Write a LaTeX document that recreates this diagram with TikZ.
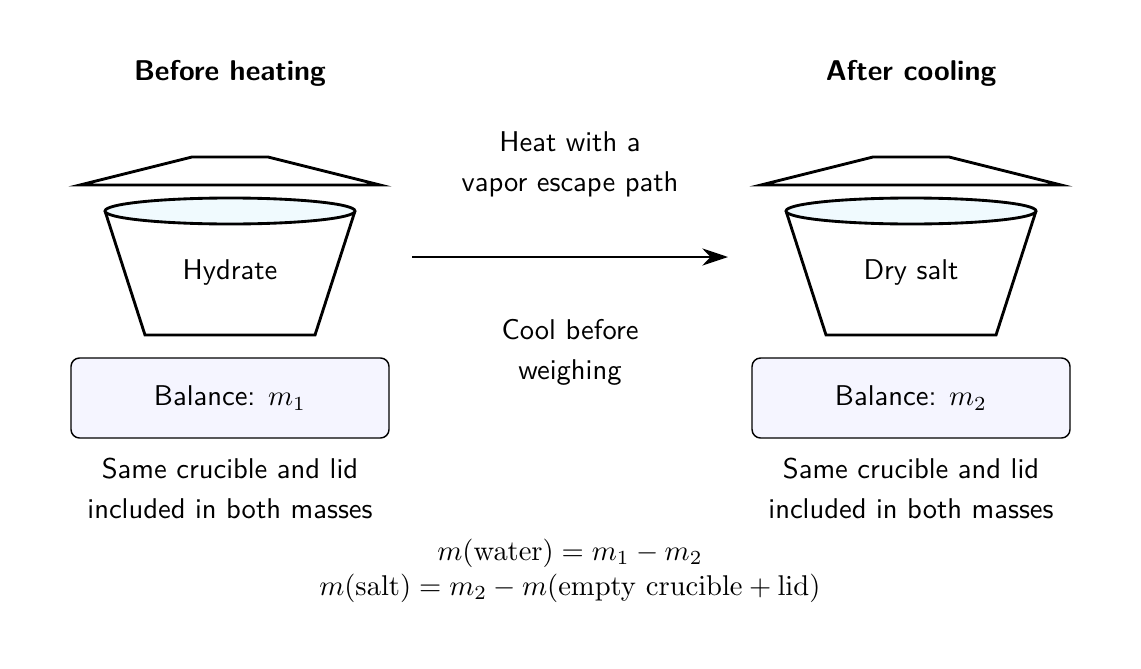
\documentclass[tikz,border=0pt]{standalone}
\usetikzlibrary{arrows.meta}
\begin{document}
\begin{tikzpicture}[x=0.35pt,y=-0.35pt,font=\sffamily,
  thick line/.style={line width=1pt,line join=miter},
  crucfill/.style={fill=cyan!6!white},
  bal/.style={draw,line width=0.5pt,rounded corners=3pt,fill=blue!4!white,minimum width=318*0.35pt,minimum height=80*0.35pt},
  lbl/.style={align=center,inner sep=0pt}]
\useasboundingbox (0,0) rectangle (1141,668);
\foreach \dx/\nm/\cont/\m/\ttl in {0/L/Hydrate/1/Before heating,681/R/Dry salt/2/After cooling}{
  \begin{scope}[xshift=\dx*0.35pt]
  \draw[thick line] (80,185) -- (192,157) -- (268,157) -- (380,185) -- cycle;
  \draw[thick line] (105,211) -- (145,335) -- (315,335) -- (355,211);
  \draw[thick line,crucfill] (230,211) ellipse [x radius=125, y radius=13];
  \node[lbl] (c\nm) at (230,273) {\cont};
  \node[bal] (b\nm) at (230,398) {Balance: $m_\m$};
  \node[lbl] (s\nm) at (230,488) {Same crucible and lid\\[2pt]included in both masses};
  \node[lbl,font=\sffamily\bfseries] (t\nm) at (230,73) {\ttl};
  \end{scope}
}
\coordinate (a1) at (412,257);
\coordinate (a2) at (728,257);
\draw[line width=1pt,-{Stealth[length=9pt,width=6pt]}] (a1) -- (a2);
\node[lbl] (heat) at (570,164) {Heat with a\\[2pt]vapor escape path};
\node[lbl] (cool) at (570,352) {Cool before\\[2pt]weighing};
\node[lbl] (e1) at (570,553) {$m(\mathrm{water}) = m_1 - m_2$};
\node[lbl] (e2) at (570,588) {$m(\mathrm{salt}) = m_2 - m(\mathrm{empty\ crucible} + \mathrm{lid})$};
\end{tikzpicture}
\end{document}
